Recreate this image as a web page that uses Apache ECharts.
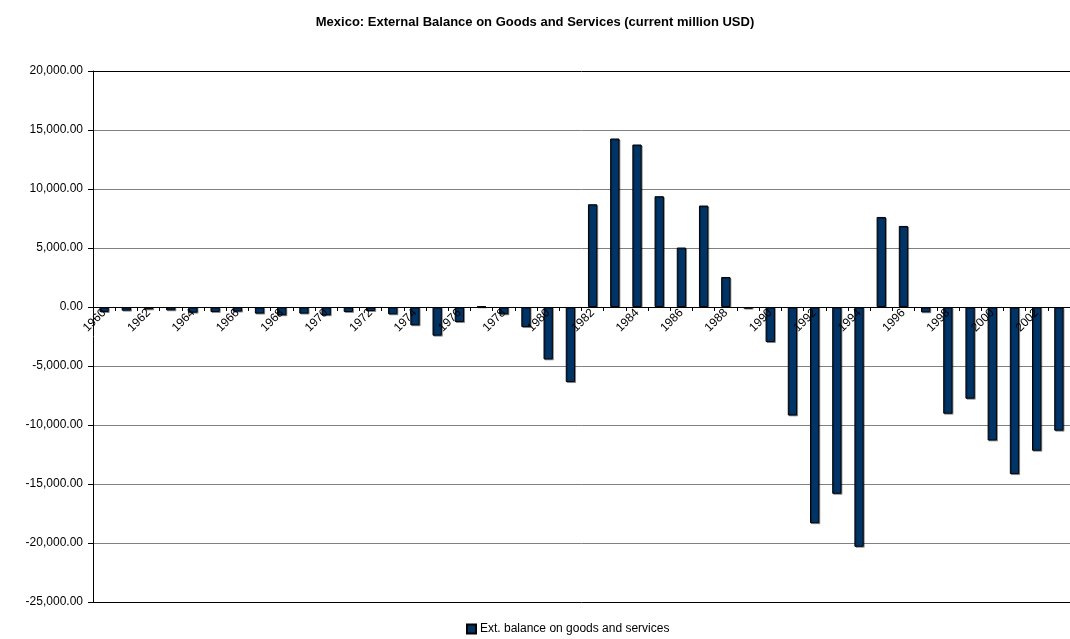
<!DOCTYPE html>
<html>
<head>
<meta charset="utf-8">
<title>Mexico: External Balance on Goods and Services</title>
<script src="https://cdn.jsdelivr.net/npm/echarts@6/dist/echarts.min.js"></script>
<style>
  html, body { margin: 0; padding: 0; background: #ffffff; }
  #chart { width: 1070px; height: 639px; }
</style>
</head>
<body>
<div id="chart"></div>
<script>
// Years on the category axis
const years = [];
for (let y = 1960; y <= 2003; y++) years.push(String(y));

// External balance on goods and services, current million USD
const balance = [
  -420, -310, -200, -280, -480, -420, -390, -560, -700, -560,
  -700, -420, -340, -620, -1550, -2430, -1270, 50, -620, -1700,
  -4440, -6360, 8710, 14280, 13770, 9390, 5040, 8600, 2545, -140,
  -2970, -9190, -18320, -15830, -20320, 7630, 6870, -450, -9040, -7770,
  -11310, -14160, -12180, -10480
];

const seriesName = 'Ext. balance on goods and services';
const titleText = 'Mexico: External Balance on Goods and Services (current million USD)';

// value-axis range
const yMin = -25000;
const yMax = 20000;

function fmt(v) {
  const neg = v < 0;
  const s = Math.abs(v).toFixed(2);
  const [ip, dp] = s.split('.');
  const withCommas = ip.replace(/\B(?=(\d{3})+(?!\d))/g, ',');
  return (neg ? '-' : '') + withCommas + '.' + dp;
}

const gridTop = 71;
const gridHeight = 531;
// lift the category axis from the bottom edge up to the zero line
const zeroOffset = -Math.round(gridHeight * (0 - yMin) / (yMax - yMin));

// zero-height anchors on the zero line that carry the year labels above the bars
const yearAnchors = years.map(() => 0);

const chart = echarts.init(document.getElementById('chart'), null, { renderer: 'canvas' });

const lineColors = ['#000000', '#808080', '#808080', '#808080', '#808080',
                    '#808080', '#808080', '#808080', '#808080', '#000000'];

chart.setOption({
  backgroundColor: '#ffffff',
  animation: false,
  textStyle: { fontFamily: 'Liberation Sans, Arial, sans-serif' },
  title: {
    text: titleText,
    left: 'center',
    top: 11,
    textStyle: { fontSize: 13, fontWeight: 'bold', color: '#000000' }
  },
  legend: {
    data: [seriesName],
    left: 461,
    top: 618,
    icon: 'rect',
    itemWidth: 9,
    itemHeight: 9,
    itemGap: 4,
    textStyle: { fontSize: 12, color: '#000000', padding: [0, 0, 0, -1] }
  },
  grid: {
    left: 93,
    top: gridTop,
    width: 986,
    height: gridHeight,
    containLabel: false
  },
  xAxis: {
    type: 'category',
    data: years,
    boundaryGap: true,
    position: 'bottom',
    offset: zeroOffset,
    axisLine: { onZero: false, lineStyle: { color: '#000000', width: 1 } },
    axisTick: { show: true, interval: 0, length: 4, lineStyle: { color: '#000000' } },
    axisLabel: { show: false },
    splitLine: { show: false }
  },
  yAxis: {
    type: 'value',
    min: yMin,
    max: yMax,
    interval: 5000,
    axisLine: { show: true, lineStyle: { color: '#000000', width: 1 } },
    axisTick: { show: true, length: 5, lineStyle: { color: '#000000' } },
    axisLabel: {
      formatter: fmt,
      fontSize: 12,
      color: '#000000',
      margin: 10
    },
    splitLine: { show: true, lineStyle: { color: lineColors, width: 1 } }
  },
  series: [
    {
      name: seriesName,
      type: 'bar',
      data: balance,
      barWidth: '42%',
      z: 2,
      itemStyle: {
        color: '#003366',
        borderColor: '#000000',
        borderWidth: 1,
        shadowColor: 'rgba(0,0,0,0.35)',
        shadowOffsetX: 1,
        shadowOffsetY: 1,
        shadowBlur: 0
      }
    },
    {
      name: 'years',
      type: 'bar',
      data: yearAnchors,
      barWidth: '42%',
      barGap: '-100%',
      z: 6,
      silent: true,
      itemStyle: { color: 'rgba(0,0,0,0)', borderWidth: 0 },
      label: {
        show: true,
        position: 'bottom',
        distance: 4,
        rotate: 45,
        align: 'right',
        verticalAlign: 'middle',
        fontSize: 12,
        color: '#000000',
        formatter: (p) => (p.dataIndex % 2 === 0 ? p.name : '')
      }
    }
  ]
});
</script>
</body>
</html>
